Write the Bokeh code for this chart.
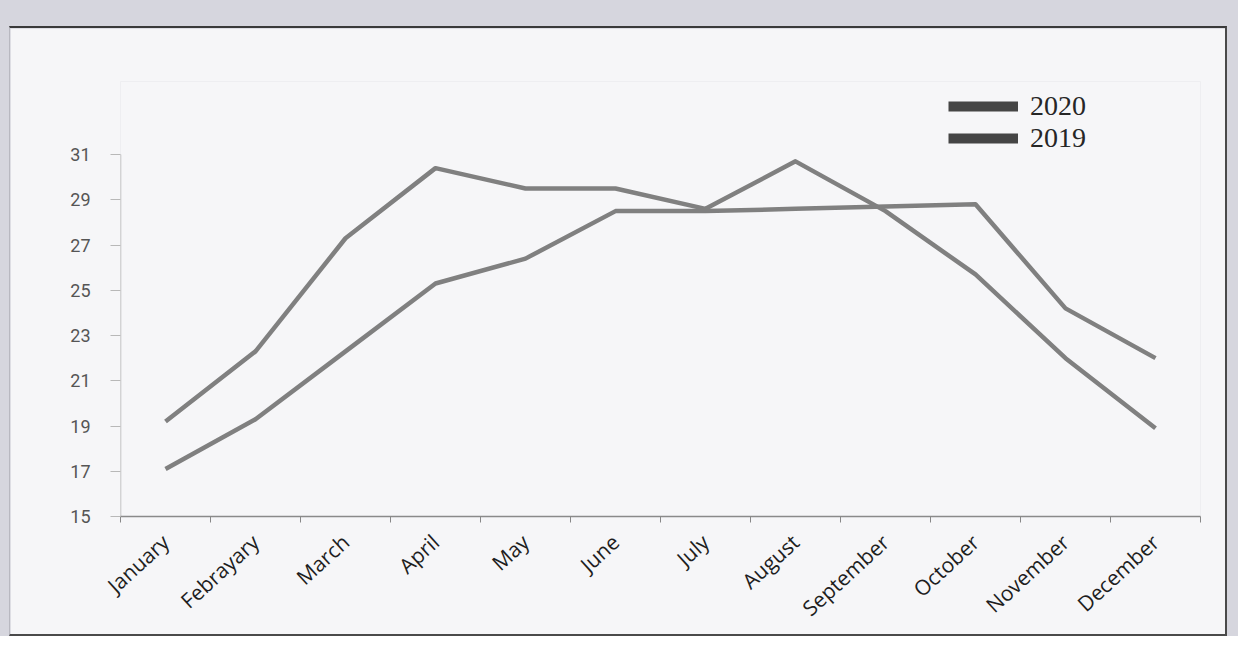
from bokeh.plotting import figure
from bokeh.models import FixedTicker, Legend, LegendItem, ColumnDataSource, Spacer
from bokeh.layouts import column, row
from bokeh.embed import file_html
from bokeh.resources import INLINE

months = ["January", "Febrayary", "March", "April", "May", "June", "July",
          "August", "September", "October", "November", "December"]
series_2020 = [19.2, 22.3, 27.3, 30.4, 29.5, 29.5, 28.6, 30.7, 28.5, 25.7, 22.0, 18.9]
series_2019 = [17.1, 19.3, 22.3, 25.3, 26.4, 28.5, 28.5, 28.6, 28.7, 28.8, 24.2, 22.0]
y_ticks = [15, 17, 19, 21, 23, 25, 27, 29, 31]

xs = [i + 0.5 for i in range(len(months))]
src = ColumnDataSource(dict(x=xs, y2020=series_2020, y2019=series_2019))

p = figure(width=1218, height=610, x_range=(0, len(months)), y_range=(15, 34.23),
           output_backend="svg", toolbar_location=None,
           min_border_left=110, min_border_right=28, min_border_top=53, min_border_bottom=122,
           background_fill_color="#f6f6f8", border_fill_color="#f6f6f8")
p.outline_line_color = None
p.grid.grid_line_color = None

line_color = "#808080"
r1 = p.line("x", "y2020", source=src, line_color=line_color, line_width=4.5, line_join="round")
r2 = p.line("x", "y2019", source=src, line_color=line_color, line_width=4.5, line_join="round")

# y axis line drawn only over the tick span (as in the reference)
axis_src = ColumnDataSource(dict(x0=[0], y0=[y_ticks[0]], x1=[0], y1=[y_ticks[-1]]))
p.segment("x0", "y0", "x1", "y1", source=axis_src, line_color="#b8b8b8", line_width=1.5)

# legend swatches (thicker, darker bars as in the reference)
nan = float("nan")
dummy = ColumnDataSource(dict(x=[nan], y=[nan]))
l1 = p.line("x", "y", source=dummy, line_color="#454545", line_width=10)
l2 = p.line("x", "y", source=dummy, line_color="#454545", line_width=10)
legend = Legend(items=[LegendItem(label="2020", renderers=[l1]),
                       LegendItem(label="2019", renderers=[l2])],
                location=(828, 362), glyph_width=70, glyph_height=24, label_height=24,
                spacing=-4, padding=0, margin=0,
                label_text_font="Liberation Serif", label_text_font_size="28px",
                label_text_color="#262626", label_standoff=12,
                border_line_color=None, background_fill_alpha=0)
p.add_layout(legend, "center")

# x axis: labels at category centres, tick marks at boundaries
xt = FixedTicker(ticks=xs, minor_ticks=list(range(len(months) + 1)))
p.xaxis.ticker = xt
p.xaxis.major_label_overrides = {x: m for x, m in zip(xs, months)}
p.xaxis.major_label_orientation = 0.74
p.xaxis.major_tick_line_color = None
p.xaxis.minor_tick_in = 0
p.xaxis.minor_tick_out = 6
p.xaxis.minor_tick_line_color = "#888888"
p.xaxis.axis_line_color = "#8a8a8a"
p.xaxis.axis_line_width = 1.5
p.xaxis.major_label_text_font = "Open Sans"
p.xaxis.major_label_text_font_size = "21px"
p.xaxis.major_label_text_color = "#1e1e1e"
p.xaxis.major_label_standoff = 16

p.yaxis.ticker = FixedTicker(ticks=y_ticks)
p.yaxis.minor_tick_line_color = None
p.yaxis.major_tick_in = 0
p.yaxis.major_tick_out = 10
p.yaxis.major_tick_line_color = "#b8b8b8"
p.yaxis.axis_line_color = None
p.yaxis.major_label_text_font = "Roboto"
p.yaxis.major_label_text_font_size = "18px"
p.yaxis.major_label_text_color = "#555555"
p.yaxis.major_label_standoff = 20

p.styles = {"border-top": "2px solid #3a3a3a", "border-right": "2px solid #4a4a4a",
            "border-bottom": "2px solid #4a4a4a", "border-left": "1px solid #b8b8c0"}

layout = column(Spacer(height=26, width=1238),
                row(Spacer(width=9, height=610), p),
                styles={"background-color": "#d6d6de"})

open("out.html", "w").write(file_html(layout, INLINE))
